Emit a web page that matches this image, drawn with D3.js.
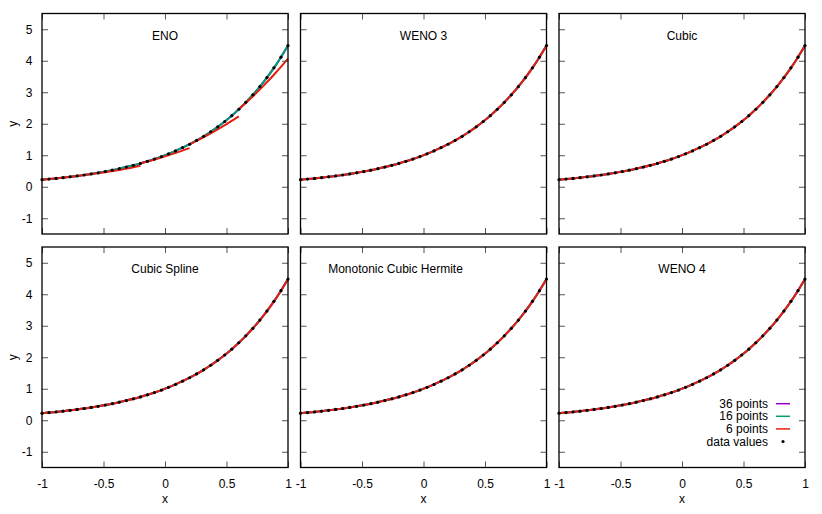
<!DOCTYPE html>
<html><head><meta charset="utf-8">
<script src="https://cdn.jsdelivr.net/npm/d3@7"></script>
<style>
body{margin:0;background:#fff}
svg{display:block}
text{font-family:"Liberation Sans",Arial,Helvetica,sans-serif;font-size:12px;fill:#000}
</style>
</head><body><svg id="c" width="822" height="514"></svg>
<script>
// ---- data ----
const panelTitles = ["ENO", "WENO 3", "Cubic", "Cubic Spline", "Monotonic Cubic Hermite", "WENO 4"];
const seriesNames = ["36 points", "16 points", "6 points"];
const seriesColors = ["#9400d3", "#009e73", "#e51e10"];
const xTicks = [-1, -0.5, 0, 0.5, 1];
const xTickLabels = ["-1", "-0.5", "0", "0.5", "1"];
const yTicks = [-1, 0, 1, 2, 3, 4, 5];
const yTickLabels = ["-1", "0", "1", "2", "3", "4", "5"];

// data values (36 samples)
const xData = [-1, -0.9429, -0.8857, -0.8286, -0.7714, -0.7143, -0.6571, -0.6, -0.5429, -0.4857, -0.4286, -0.3714,
  -0.3143, -0.2571, -0.2, -0.1429, -0.0857, -0.0286, 0.0286, 0.0857, 0.1429, 0.2, 0.2571, 0.3143, 0.3714, 0.4286,
  0.4857, 0.5429, 0.6, 0.6571, 0.7143, 0.7714, 0.8286, 0.8857, 0.9429, 1];
const yData = [0.2231, 0.2431, 0.2649, 0.2886, 0.3144, 0.3425, 0.3732, 0.4066, 0.4430, 0.4826, 0.5258, 0.5728,
  0.6241, 0.6800, 0.7408, 0.8071, 0.8794, 0.9581, 1.0438, 1.1372, 1.2390, 1.3499, 1.4707, 1.6023, 1.7457, 1.9019,
  2.0721, 2.2576, 2.4596, 2.6797, 2.9195, 3.1808, 3.4655, 3.7756, 4.1136, 4.4817];

// ENO with 6 points: piecewise segments (discontinuous)
const eno6X = [[-1, -0.9, -0.8, -0.7, -0.6], [-0.6, -0.5, -0.4, -0.3, -0.2], [-0.2, -0.1, 0, 0.1, 0.2],
  [0.2, 0.3, 0.4, 0.5, 0.6], [0.6, 0.7, 0.8, 0.9, 1]];
const eno6Y = [[0.2231, 0.2592, 0.3012, 0.3499, 0.4066], [0.4066, 0.4537, 0.5128, 0.5839, 0.667],
  [0.7408, 0.8479, 0.9645, 1.0903, 1.2257], [1.3499, 1.5451, 1.7575, 1.9871, 2.2339],
  [2.4596, 2.8153, 3.2022, 3.6204, 4.0699]];

// ---- layout ----
const svg = d3.select("#c");
const lefts = [42, 300.5, 559];
const tops = [13.5, 247];
const W = 246, H = 220.5;
const titleShift = [0, 0, 0, 0, -28, 0];

const dataPts = xData.map((x, i) => [x, yData[i]]);

panelTitles.forEach((title, p) => {
  const col = p % 3, row = Math.floor(p / 3);
  const L = lefts[col], T = tops[row];
  const x = d3.scaleLinear().domain([-1, 1]).range([L, L + W]);
  const y = d3.scaleLinear().domain([-1.5, 5.5]).range([T + H, T]);
  const g = svg.append("g");

  const line = d3.line().x(d => x(d[0])).y(d => y(d[1])).curve(d3.curveCatmullRom);

  // series: 36, 16, 6 points
  seriesNames.forEach((s, k) => {
    if (p === 0 && k === 2) {
      eno6X.forEach((xs, j) => {
        const pts = xs.map((xv, m) => [xv, eno6Y[j][m]]);
        g.append("path").attr("d", line(pts)).attr("fill", "none")
          .attr("stroke", seriesColors[k]).attr("stroke-width", 2);
      });
    } else {
      g.append("path").attr("d", line(dataPts)).attr("fill", "none")
        .attr("stroke", seriesColors[k]).attr("stroke-width", 2);
    }
  });

  // data dots
  g.selectAll("circle.d").data(dataPts).join("circle")
    .attr("cx", d => x(d[0])).attr("cy", d => y(d[1])).attr("r", 1.6).attr("fill", "#000");

  // axes (inward ticks on all sides)
  const ax = [];
  ax.push(g.append("g").attr("transform", `translate(${L},0)`)
    .call(d3.axisLeft(y).tickValues(yTicks).tickSize(-6).tickPadding(9.5)
      .tickFormat((d, i) => col === 0 ? yTickLabels[i] : "")));
  ax.push(g.append("g").attr("transform", `translate(${L + W},0)`)
    .call(d3.axisRight(y).tickValues(yTicks).tickSize(-6).tickFormat("")));
  ax.push(g.append("g").attr("transform", `translate(0,${T})`)
    .call(d3.axisTop(x).tickValues(xTicks).tickSize(-6).tickFormat("")));
  ax.push(g.append("g").attr("transform", `translate(0,${T + H})`)
    .call(d3.axisBottom(x).tickValues(xTicks).tickSize(-6).tickPadding(11.5)
      .tickFormat((d, i) => row === 1 ? xTickLabels[i] : "")));
  ax.forEach(a => {
    a.select(".domain").remove();
    a.selectAll("line").attr("stroke", "#555").attr("stroke-width", 1);
    a.selectAll("text").attr("font-size", 12).attr("font-family", null);
  });

  // border
  g.append("rect").attr("x", L).attr("y", T).attr("width", W).attr("height", H)
    .attr("fill", "none").attr("stroke", "#000").attr("stroke-width", 1.3);

  // title
  g.append("text").attr("x", L + W / 2 + titleShift[p]).attr("y", T + 26).attr("text-anchor", "middle").text(title);

  if (col === 0) {
    g.append("text").attr("transform", `translate(17,${T + H / 2}) rotate(-90)`)
      .attr("text-anchor", "middle").text("y");
  }
  if (row === 1) {
    g.append("text").attr("x", L + W / 2).attr("y", T + H + 35.5).attr("text-anchor", "middle").text("x");
  }

  // legend in last panel
  if (p === 5) {
    const dy = 12.6;
    const lx = L + W - 37, ly0 = T + H - 22 - 3 * dy;
    seriesNames.forEach((s, k) => {
      const yy = ly0 + k * dy;
      g.append("text").attr("x", lx).attr("y", yy).attr("text-anchor", "end")
        .attr("font-size", 11).text(s);
      g.append("line").attr("x1", lx + 8).attr("x2", lx + 22).attr("y1", yy - 4).attr("y2", yy - 4)
        .attr("stroke", seriesColors[k]).attr("stroke-width", 1.5);
    });
    const yy = ly0 + 3 * dy;
    g.append("text").attr("x", lx).attr("y", yy).attr("text-anchor", "end")
      .attr("font-size", 11).text("data values");
    g.append("circle").attr("cx", lx + 15).attr("cy", yy - 4).attr("r", 1.6).attr("fill", "#000");
  }
});
</script></body></html>
